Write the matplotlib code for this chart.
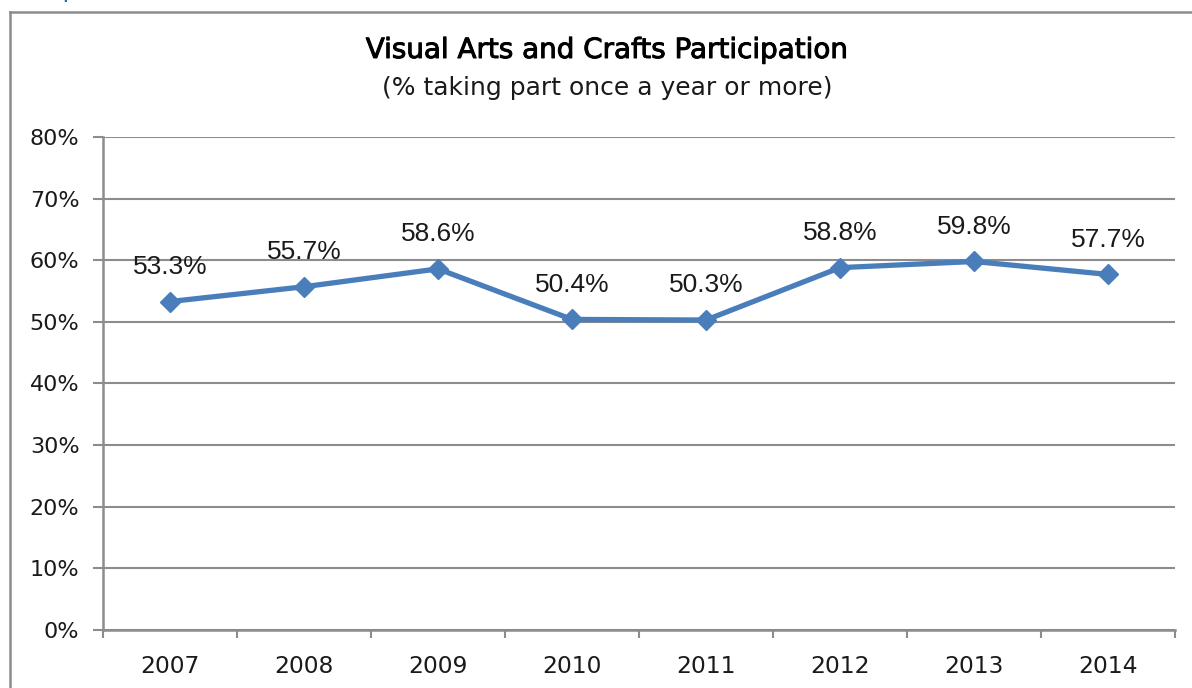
import matplotlib
matplotlib.use("Agg")
import matplotlib.pyplot as plt
from matplotlib.lines import Line2D
import matplotlib.patheffects as pe

years = ["2007", "2008", "2009", "2010", "2011", "2012", "2013", "2014"]
values = [53.3, 55.7, 58.6, 50.4, 50.3, 58.8, 59.8, 57.7]
labels = ["53.3%", "55.7%", "58.6%", "50.4%", "50.3%", "58.8%", "59.8%", "57.7%"]
yticks = [0, 10, 20, 30, 40, 50, 60, 70, 80]
ytick_labels = ["0%", "10%", "20%", "30%", "40%", "50%", "60%", "70%", "80%"]

plt.rcParams['font.family'] = ['DejaVu Sans']
W, H = 1192, 688
fig = plt.figure(figsize=(W / 100, H / 100), dpi=100)
fig.patch.set_facecolor("white")

gray = "#8c8c8c"
txt = "#1a1a1a"
# outer frame (cropped at right/bottom)
fig.add_artist(Line2D([10 / W, 10 / W], [0, 1 - 12 / H], transform=fig.transFigure, color=gray, lw=1.8))
fig.add_artist(Line2D([10 / W, 1], [1 - 12 / H, 1 - 12 / H], transform=fig.transFigure, color=gray, lw=1.8))
# cropped blue letter fragment at top
fig.text(62 / W, 1 + 2 / H, "p", color="#1f6fb4", fontsize=18, va="baseline", ha="left",
         family="Lato")

ax = fig.add_axes([103 / W, 1 - 630 / H, (1175 - 103) / W, (630 - 137) / H])
x = list(range(len(years)))
ax.plot(x, values, color="#4a7ebb", lw=3.8, marker="D", markersize=10, zorder=3, clip_on=False)
for xi, v, lab in zip(x, values, labels):
    ax.annotate(lab, (xi, v), xytext=(0, 25), textcoords="offset points",
                ha="center", va="center", fontsize=19, color=txt, family="Liberation Sans")

ax.set_xlim(-0.5, len(years) - 0.5)
ax.set_ylim(0, 80)
ax.set_yticks(yticks)
ax.set_yticklabels(ytick_labels, fontsize=16, color=txt)
ax.set_xticks(x)
ax.set_xticklabels(years, fontsize=16.8, color=txt)
ax.set_xticks([i - 0.5 for i in range(len(years) + 1)], minor=True)
ax.tick_params(axis="x", which="major", length=0, pad=18)
ax.tick_params(axis="x", which="minor", length=6, width=1.5, color=gray, direction="out")
ax.tick_params(axis="y", length=7, width=1.5, color=gray, direction="out", pad=10)
ax.grid(axis="y", color=gray, lw=1.5)
ax.set_axisbelow(True)
for s in ["top", "right"]:
    ax.spines[s].set_visible(False)
for s in ["left", "bottom"]:
    ax.spines[s].set_color(gray)
    ax.spines[s].set_linewidth(1.8)

fig.text(607 / W, 1 - 50 / H, "Visual Arts and Crafts Participation", ha="center", va="center",
         fontsize=20, color="#000000",
         path_effects=[pe.withStroke(linewidth=0.7, foreground="#000000")])
fig.text(607 / W, 1 - 88 / H, "(% taking part once a year or more)", ha="center", va="center",
         fontsize=18, color=txt)

fig.savefig("out.png", dpi=100, facecolor="white")
